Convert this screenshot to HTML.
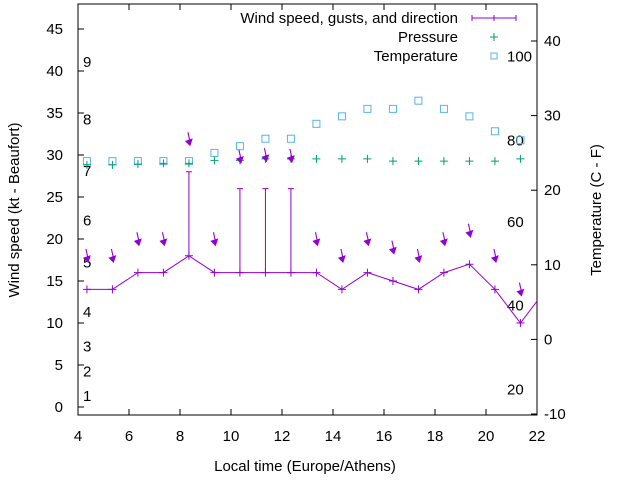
<!DOCTYPE html>
<html><head><meta charset="utf-8"><style>
body{margin:0;background:#fff}
svg{display:block;font-family:"Liberation Sans",sans-serif}
</style></head><body>
<svg id="chart" width="640" height="480" xmlns="http://www.w3.org/2000/svg">
<g id="axes"></g>
<g id="marks"></g>
</svg>
<script>
const hours=[4.35,5.35,6.35,7.35,8.35,9.35,10.35,11.35,12.35,13.35,14.35,15.35,16.35,17.35,18.35,19.35,20.35,21.35,22.35];
const windSpeed=[14,14,16,16,18,16,16,16,16,16,14,16,15,14,16,17,14,10,14];
const gusts=[null,null,null,null,28,null,26,26,26,null,null,null,null,null,null,null,null,null,null];
const dirLevel=[17.5,17.5,19.5,19.5,31.4,19.5,29.3,29.5,29.4,19.5,17.5,19.5,18.5,17.5,19.5,20.5,17.5,13.5];
const pressure=[23.4,23.4,23.5,23.6,23.6,24.0,24.0,24.2,24.2,24.2,24.2,24.2,23.9,23.9,23.9,23.9,23.9,24.2];
const temperature=[23.9,23.9,23.9,23.9,23.9,25.0,25.9,26.9,26.9,28.9,29.9,30.9,30.9,32.0,30.9,29.9,27.9,26.7];
const xTicks=[4,6,8,10,12,14,16,18,20,22];
const yTicks=[0,5,10,15,20,25,30,35,40,45];
const y2Ticks=[-10,0,10,20,30,40];
const beaufort=[[1,1.3],[2,4.2],[3,7.2],[4,11.3],[5,17.2],[6,22.2],[7,28.1],[8,34.2],[9,41.1]];
const fahr=[[20,2.1],[40,12.1],[60,22.0],[80,31.7],[100,41.7]];

const L=78,R=537,T=4,B=415;
const x=h=>L+(h-4)*(R-L)/18;
const y=v=>407-8.4*v;
const y2=t=>41+(40-t)*7.46;
const NS="http://www.w3.org/2000/svg";
const axes=document.getElementById('axes'),marks=document.getElementById('marks');
function mk(p,tag,attrs,txt){const e=document.createElementNS(NS,tag);for(const k in attrs)e.setAttribute(k,attrs[k]);if(txt!==undefined)e.textContent=txt;p.appendChild(e);return e;}

let e=mk(axes,'rect',{x:L,y:T,width:R-L,height:B-T,fill:'none',stroke:'#000','stroke-width':1});


xTicks.forEach(h=>{
 e=mk(axes,'path',{d:`M${x(h)},${B}v-6M${x(h)},${T}v6`,stroke:'#000'});
 
 
 e=mk(axes,'text',{x:x(h),y:B+26,'text-anchor':'middle','font-size':15},h);
 
 
});
yTicks.forEach(v=>{
 e=mk(axes,'path',{d:`M${L},${y(v)}h6`,stroke:'#000'});
 
 
 e=mk(axes,'text',{x:L-15,y:y(v)+5,'text-anchor':'end','font-size':15},v);
 
 
});
y2Ticks.forEach(t=>{
 e=mk(axes,'path',{d:`M${R},${y2(t)}h-6`,stroke:'#000'});
 
 
 e=mk(axes,'text',{x:R+7,y:y2(t)+5,'font-size':15},t);
 
 
});
beaufort.forEach(b=>{
 e=mk(axes,'text',{x:83,y:y(b[1])+5,'font-size':15},b[0]);
 
 
});
fahr.forEach(f=>{
 e=mk(axes,'text',{x:507,y:y(f[1])+5,'font-size':15},f[0]);
 
 
});
e=mk(axes,'text',{x:305,y:471,'text-anchor':'middle','font-size':15},'Local time (Europe/Athens)');


e=mk(axes,'text',{x:0,y:0,'text-anchor':'middle','font-size':15,transform:'translate(19,210) rotate(-90)'},'Wind speed (kt - Beaufort)');


e=mk(axes,'text',{x:0,y:0,'text-anchor':'middle','font-size':15,transform:'translate(601,210) rotate(-90)'},'Temperature (C - F)');



e=mk(axes,'text',{x:458,y:23,'text-anchor':'end','font-size':15},'Wind speed, gusts, and direction');


mk(axes,'path',{d:'M472,18h44M472,15v6M494,15v6M516,15v6',stroke:'#9400d3'});
e=mk(axes,'text',{x:458,y:42,'text-anchor':'end','font-size':15},'Pressure');


mk(axes,'path',{d:'M490,37h8M494,33v8',stroke:'#009e73'});
e=mk(axes,'text',{x:458,y:61,'text-anchor':'end','font-size':15},'Temperature');


mk(axes,'rect',{x:491,y:53,width:6,height:6,fill:'none',stroke:'#56b4e9'});

const defs=mk(marks,'defs',{});const cp=mk(defs,'clipPath',{id:'clip'});mk(cp,'rect',{x:L,y:T,width:R-L,height:B-T});
const g=mk(marks,'g',{'clip-path':'url(#clip)'});

temperature.forEach((t,i)=>{
 e=mk(g,'rect',{x:x(hours[i])-3.5,y:y2(t)-3.5,width:7,height:7,fill:'none',stroke:'#56b4e9'});
 
 
});
pressure.forEach((p,i)=>{
 const cx=x(hours[i]),cy=y2(p);
 e=mk(g,'path',{d:`M${cx-4},${cy}h8M${cx},${cy-4}v8`,stroke:'#009e73'});
 
 
});
e=mk(g,'polyline',{points:windSpeed.map((v,i)=>x(hours[i])+','+y(v)).join(' '),fill:'none',stroke:'#9400d3'});


windSpeed.forEach((v,i)=>{
 const cx=x(hours[i]),cy=y(v);
 e=mk(g,'path',{d:`M${cx-4},${cy}h8M${cx},${cy-4}v8`,stroke:'#9400d3'});
 
 
});
gusts.forEach((gv,i)=>{
 if(gv==null)return;
 const cx=x(hours[i]);
 e=mk(g,'path',{d:`M${cx},${y(windSpeed[i])}V${y(gv)}M${cx-3},${y(gv)}h6`,stroke:'#9400d3'});
 
 
});
dirLevel.forEach((d,i)=>{
 const cx=x(hours[i]),cy=y(d);
 e=mk(g,'path',{d:`M${cx-1},${cy-11}L${cx+1},${cy-2}M${cx-3},${cy-2}L${cx+3},${cy-4}L${cx+1},${cy+2}Z`,stroke:'#9400d3',fill:'#9400d3','stroke-width':1.1});
 
 
});
</script>
</body></html>
